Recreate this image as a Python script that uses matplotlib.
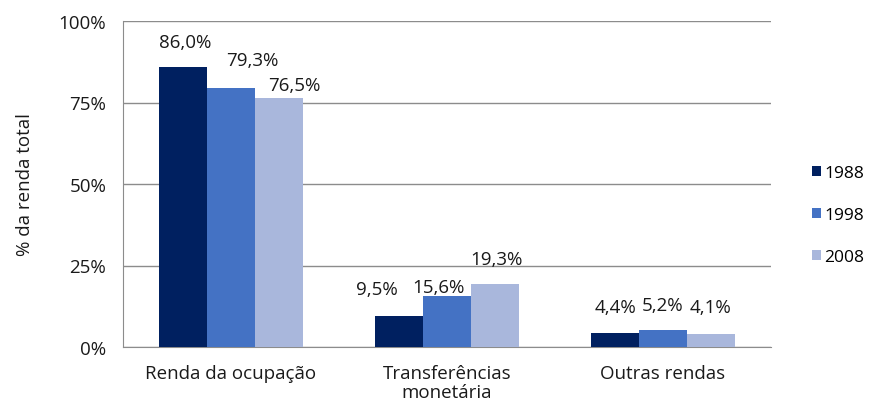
import matplotlib
matplotlib.use("Agg")
import matplotlib.pyplot as plt
import numpy as np

categorias = ["Renda da ocupação", "Transferências\nmonetária", "Outras rendas"]
anos = ["1988", "1998", "2008"]
v1988 = [86.0, 9.5, 4.4]
v1998 = [79.3, 15.6, 5.2]
v2008 = [76.5, 19.3, 4.1]
cores = ["#002060", "#4472C4", "#A9B7DC"]

# deslocamento dos rótulos (pixels), como o Excel arrumou
desloc = [
    [(2, 16), (-22, 18), (0, 17)],
    [(21, 19), (-9, 0), (0, 16)],
    [(15, 4), (2, 16), (0, 18)],
]

plt.rcParams["font.family"] = ["Open Sans", "DejaVu Sans"]
txt = "#1a1a1a"
fs = 13.5

fig = plt.figure(figsize=(8.75, 4.02), dpi=100)
ax = fig.add_axes([123 / 875, 1 - 348 / 402, 648 / 875, 326 / 402])

x = np.arange(len(categorias))
w = 0.222
series = [v1988, v1998, v2008]
for i, (vals, ano, cor) in enumerate(zip(series, anos, cores)):
    pos = x + (i - 1) * w
    ax.bar(pos, vals, w, color=cor, label=ano, zorder=3)
    for j, (p, v) in enumerate(zip(pos, vals)):
        dx, dy = desloc[i][j]
        ax.annotate(f"{v:.1f}%".replace(".", ","), (p, v),
                    xytext=(dx * 0.72, dy * 0.72),
                    textcoords="offset points", ha="center", va="bottom",
                    fontsize=fs, color=txt, zorder=4)

ax.set_xlim(-0.5, 2.5)
ax.set_ylim(0, 100)
ax.set_yticks([0, 25, 50, 75, 100])
ax.set_yticklabels(["0%", "25%", "50%", "75%", "100%"])
ax.set_xticks(x)
ax.set_xticklabels(categorias, linespacing=1.1)
ax.tick_params(axis="both", length=0, labelsize=fs, colors=txt)
ax.tick_params(axis="x", pad=12)
ax.tick_params(axis="y", pad=12)
ax.grid(axis="y", color="#8c8c8c", linewidth=1, zorder=0)
for s in ["top", "right"]:
    ax.spines[s].set_visible(False)
for s in ["left", "bottom"]:
    ax.spines[s].set_color("#8c8c8c")
ax.set_ylabel("% da renda total", fontsize=fs, color=txt, labelpad=18)

ax.legend(loc="center left", bbox_to_anchor=(1.063, 0.405), frameon=False,
          fontsize=12.5, handlelength=0.55, handleheight=0.55, handletextpad=0.15,
          labelspacing=1.5, borderpad=0, borderaxespad=0)

fig.savefig("out.png", dpi=100)
